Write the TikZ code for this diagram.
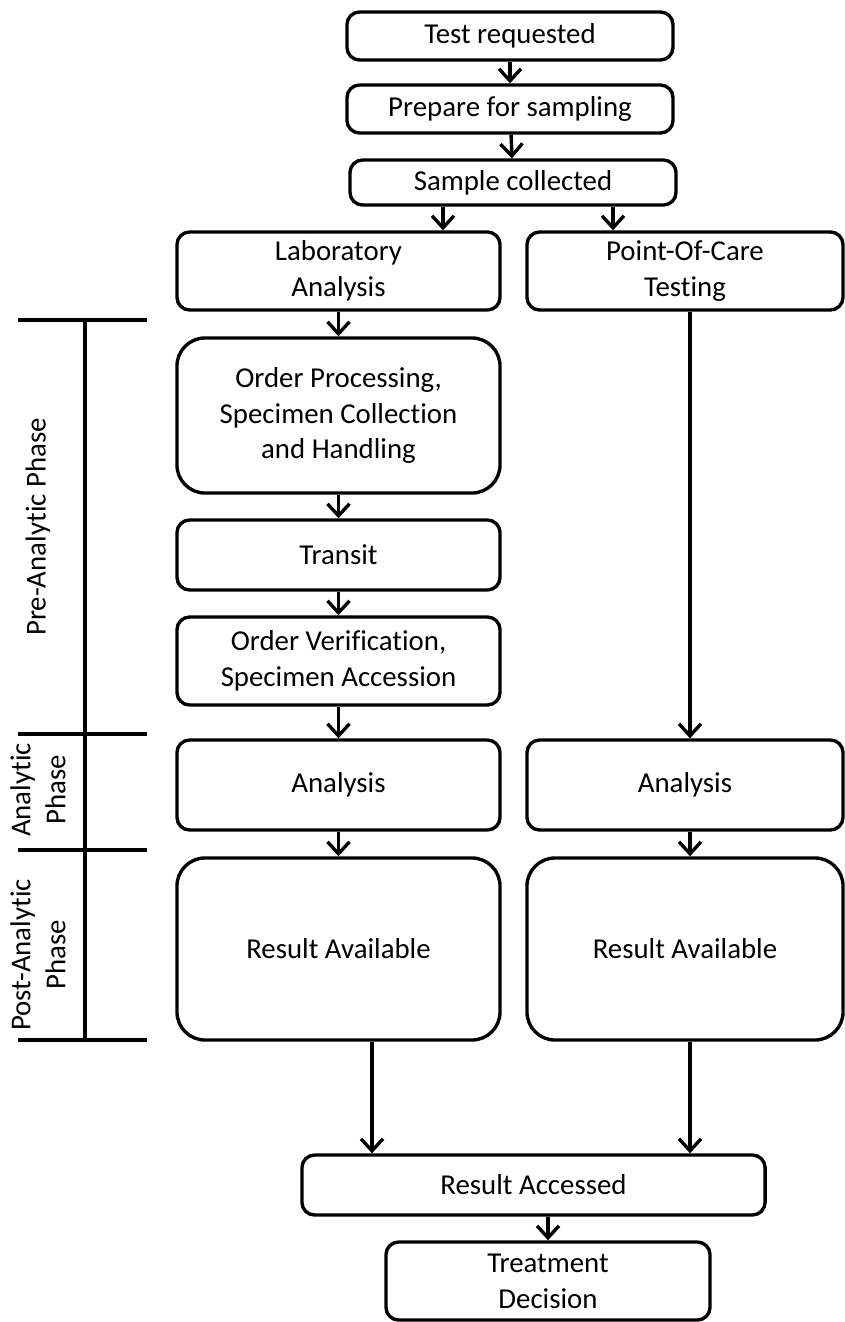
\documentclass[tikz,border=0pt]{standalone}
\usepackage{fontspec}
\setmainfont{Carlito}[Ligatures=NoCommon]
\usetikzlibrary{arrows.meta}

\begin{document}
\begin{tikzpicture}[x=0.025cm,y=-0.025cm,line width=2.4pt,>={Straight Barb[length=0.3cm,width=0.55cm]}]
        \tikzstyle{stepbox}=[rectangle,rounded corners=9pt,draw=black,align=center,font=\fontsize{20.5}{25.5}\selectfont,inner sep=2pt]
        \tikzstyle{bigbox}=[stepbox,rounded corners=20pt]
        \tikzstyle{phase}=[rotate=90,align=center,font=\fontsize{20.5}{25}\selectfont]
        \tikzstyle{edge}=[draw,->]
        \useasboundingbox (0,0) rectangle (845,1322);
       \begin{scope}
         % common trunk
         \node [stepbox,minimum width=8.15cm,minimum height=1.2cm] (treq) at (510,36) {Test requested};
         \node [stepbox,minimum width=8.15cm,minimum height=1.2cm] (prep) at (510,109) {Prepare for sampling};
         \node [stepbox,minimum width=8.15cm,minimum height=1.125cm] (samp) at (513,182.5) {Sample collected};
         % laboratory branch
         \node [stepbox,minimum width=8.075cm,minimum height=1.95cm] (lab) at (338.5,271) {Laboratory\\Analysis};
         \node [bigbox,minimum width=8.075cm,minimum height=3.875cm] (ordp) at (338.5,415.5) {Order Processing,\\Specimen Collection\\and Handling};
         \node [stepbox,minimum width=8.075cm,minimum height=1.75cm] (trans) at (338.5,555) {Transit};
         \node [stepbox,minimum width=8.075cm,minimum height=2.2cm] (ordv) at (338.5,661) {Order Verification,\\Specimen Accession};
         \node [stepbox,minimum width=8.075cm,minimum height=2.25cm] (ana1) at (338.5,785) {Analysis};
         \node [bigbox,minimum width=8.075cm,minimum height=4.55cm] (res1) at (338.5,949) {Result Available};
         % point-of-care branch
         \node [stepbox,minimum width=7.9cm,minimum height=1.95cm] (poc) at (685,271) {Point-Of-Care\\Testing};
         \node [stepbox,minimum width=7.9cm,minimum height=2.25cm] (ana2) at (685,785) {Analysis};
         \node [bigbox,minimum width=7.9cm,minimum height=4.55cm] (res2) at (685,949) {Result Available};
         % end
         \node [stepbox,minimum width=11.575cm,minimum height=1.5cm] (racc) at (533.5,1185) {Result Accessed};
         \node [stepbox,minimum width=8.1cm,minimum height=1.95cm] (treat) at (548,1281) {Treatment\\Decision};
         \coordinate (sl) at (443,0);
         \coordinate (sr) at (613,0);
         \coordinate (rl) at (372,0);
         \coordinate (rr) at (690,0);
         \path[edge] (treq) edge (prep);
         \path[edge] (prep) edge (samp);
         \draw[->] (samp.south -| sl) -- (lab.north -| sl);
         \draw[->] (samp.south -| sr) -- (poc.north -| sr);
         \path[edge] (lab) edge (ordp);
         \path[edge] (ordp) edge (trans);
         \path[edge] (trans) edge (ordv);
         \path[edge] (ordv) edge (ana1);
         \path[edge] (ana1) edge (res1);
         \draw[->] (poc.south -| rr) -- (ana2.north -| rr);
         \draw[->] (ana2.south -| rr) -- (res2.north -| rr);
         \draw[->] (res1.south -| rl) -- (racc.north -| rl);
         \draw[->] (res2.south -| rr) -- (racc.north -| rr);
         \draw[->] (racc.south -| treat) -- (treat.north);
        \end{scope}
       \begin{scope}
         % phase bar
         \coordinate (ptop) at (85,320);
         \coordinate (pa) at (85,734);
         \coordinate (pb) at (85,850);
         \coordinate (pbot) at (85,1040);
         \draw (ptop) -- (pbot);
         \draw ([xshift=-1.675cm]ptop) -- ([xshift=1.55cm]ptop);
         \draw ([xshift=-1.675cm]pa) -- ([xshift=1.55cm]pa);
         \draw ([xshift=-1.675cm]pb) -- ([xshift=1.55cm]pb);
         \draw ([xshift=-1.675cm]pbot) -- ([xshift=1.55cm]pbot);
         \node [phase] (pre) at (38,527) {Pre-Analytic Phase};
         \node [phase] (an) at (38,790) {Analytic\\Phase};
         \node [phase] (post) at (38,955) {Post-Analytic\\Phase};
        \end{scope}
      \end{tikzpicture}
\end{document}
